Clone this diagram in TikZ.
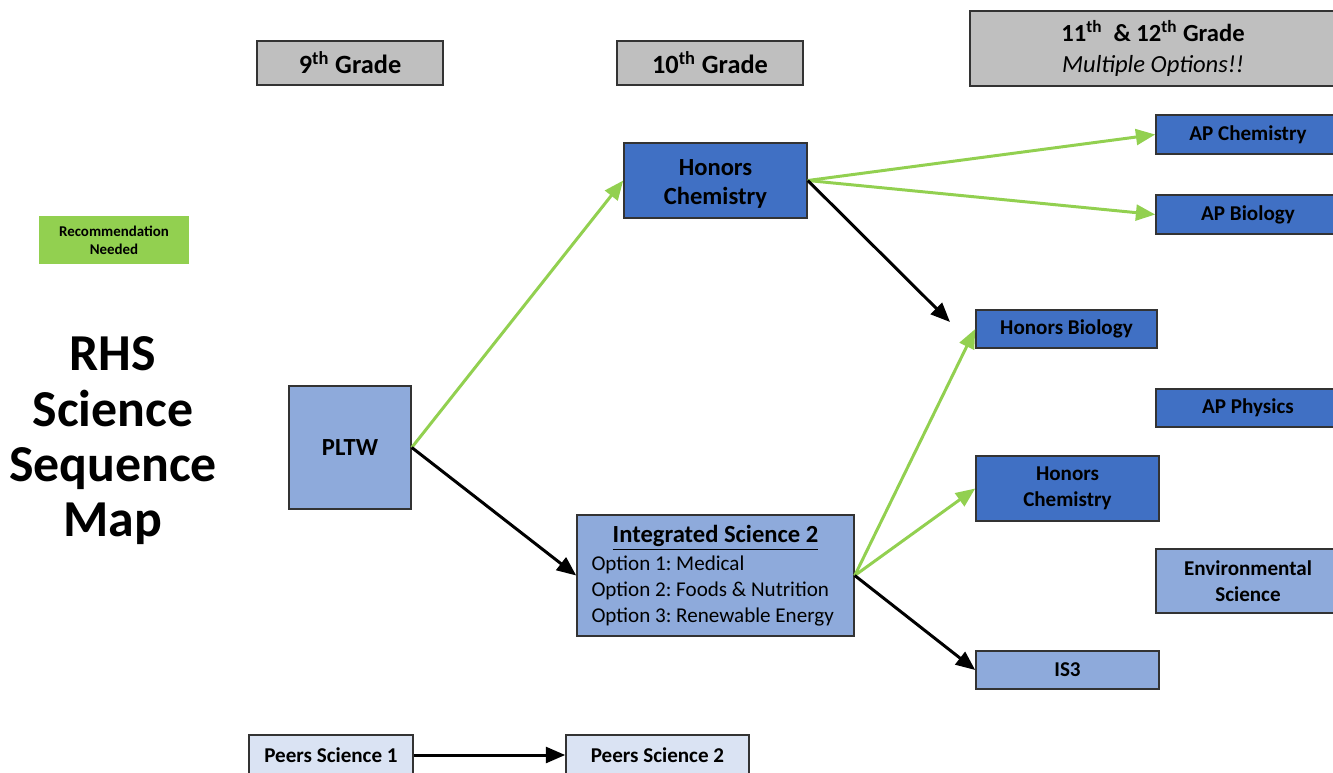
\documentclass[tikz,border=0pt]{standalone}
\usepackage{fontspec}
\setmainfont{Carlito}
\usetikzlibrary{arrows.meta}
\definecolor{darkblue}{RGB}{64,112,196}
\definecolor{lightblue}{RGB}{142,170,219}
\definecolor{paleblue}{RGB}{218,227,243}
\definecolor{gradegray}{RGB}{191,191,191}
\definecolor{recgreen}{RGB}{146,208,80}
\frenchspacing
\begin{document}
\begin{tikzpicture}[x=0.02cm,y=-0.02cm,
  box/.style={shape=rectangle,draw=black!80,line width=0.9pt,inner sep=0pt,align=center,font=\bfseries\fontsize{12}{14.5}\selectfont},
  grade/.style={box,fill=gradegray,font=\bfseries\fontsize{15}{18}\selectfont},
  dark/.style={box,fill=darkblue},
  light/.style={box,fill=lightblue},
  pale/.style={box,fill=paleblue},
  greenarrow/.style={-{Triangle[length=11pt,width=9pt]},line width=1.7pt,recgreen},
  blackarrow/.style={-{Triangle[length=11pt,width=9pt]},line width=1.7pt,black}]
\useasboundingbox (0,0) rectangle (1333,772);
\node[grade,minimum width=3.72cm,minimum height=0.88cm](G9) at (350,63){9\textsuperscript{th} Grade};
\node[grade,minimum width=3.72cm,minimum height=0.88cm](G10) at (710,63){10\textsuperscript{th} Grade};
\node[grade,minimum width=7.32cm,minimum height=1.5cm,font=\bfseries\fontsize{14}{17.6}\selectfont](G11) at (1153,48.5){11\textsuperscript{th}\ \ \& 12\textsuperscript{th} Grade\\\textmd{\textit{Multiple Options!!}}};
\node[fill=recgreen,shape=rectangle,inner sep=0pt,align=center,minimum width=3cm,minimum height=0.96cm,font=\bfseries\fontsize{8.5}{10.2}\selectfont](REC) at (114,240){Recommendation\\Needed};
\node[align=center,font=\bfseries\fontsize{29.5}{31.5}\selectfont](T) at (113,441){RHS\\Science\\Sequence\\Map};
\node[light,minimum width=2.44cm,minimum height=2.46cm,font=\bfseries\fontsize{14}{17}\selectfont](PL) at (350,447.5){PLTW};
\node[dark,minimum width=3.66cm,minimum height=1.5cm,font=\bfseries\fontsize{14}{17}\selectfont](HC) at (715.5,180.5){\\[-4pt]Honors\\Chemistry};
\node[light,minimum width=5.54cm,minimum height=2.42cm,align=left,font=\fontsize{12}{14.8}\selectfont](IS2) at (715.5,575.5){\makebox[4.96cm]{\bfseries\fontsize{14}{16}\selectfont\underline{Integrated Science 2}}\\[1pt]Option 1: Medical\\Option 2: Foods \& Nutrition\\Option 3: Renewable Energy};
\node[dark,minimum width=3.68cm,minimum height=0.78cm](APC) at (1248,134.5){AP Chemistry};
\node[dark,minimum width=3.68cm,minimum height=0.78cm](APB) at (1248,214.5){AP Biology};
\node[dark,minimum width=3.62cm,minimum height=0.76cm](HB) at (1066.5,329){Honors Biology};
\node[dark,minimum width=3.68cm,minimum height=0.76cm](APP) at (1248,408){AP Physics};
\node[dark,minimum width=3.66cm,minimum height=1.3cm](HC2) at (1067.5,488.5){Honors\\Chemistry};
\node[light,minimum width=3.68cm,minimum height=1.28cm](ES) at (1248,581){Environmental\\Science};
\node[light,minimum width=3.66cm,minimum height=0.76cm](IS3) at (1067.5,670){IS3};
\node[pale,minimum width=3.28cm,minimum height=0.8cm](PS1) at (331,755){Peers Science 1};
\node[pale,minimum width=3.66cm,minimum height=0.8cm](PS2) at (657.5,755){Peers Science 2};
\coordinate (HBend) at (950,322);
\draw[greenarrow] (PL.east) -- (HC.west);
\draw[blackarrow] (PL.east) -- (IS2.west);
\draw[greenarrow] (HC.east) -- (APC.west);
\draw[greenarrow] (HC.east) -- (APB.west);
\draw[blackarrow] (HC.east) -- (HBend);
\draw[greenarrow] (IS2.east) -- (HB.west);
\draw[greenarrow] (IS2.east) -- (HC2.west);
\draw[blackarrow] (IS2.east) -- (IS3.west);
\draw[blackarrow] (PS1.east) -- (PS2.west);
\end{tikzpicture}
\end{document}
